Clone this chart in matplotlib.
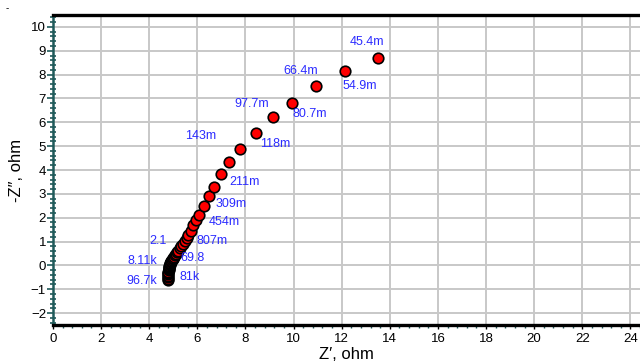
import matplotlib.pyplot as plt
from matplotlib.ticker import MultipleLocator

plt.rcParams['font.family'] = ['Liberation Sans', 'DejaVu Sans']

# Nyquist data, high frequency first
z_re = [4.79, 4.79, 4.79, 4.79, 4.80, 4.80, 4.80, 4.81, 4.81, 4.82,
        4.83, 4.84, 4.85, 4.86, 4.88, 4.90, 4.92, 4.94, 4.97, 5.00,
        5.03, 5.07, 5.11, 5.16, 5.21, 5.27, 5.33, 5.40, 5.47, 5.55,
        5.63, 5.72, 5.83, 5.95, 6.08, 6.29, 6.47, 6.71, 6.99, 7.33,
        7.76, 8.42, 9.125, 9.92, 10.93, 12.13, 13.51]
z_im = [-0.62, -0.55, -0.49, -0.43, -0.37, -0.31, -0.26, -0.21, -0.16, -0.11,
        -0.07, -0.03, 0.01, 0.05, 0.09, 0.13, 0.17, 0.21, 0.26, 0.31,
        0.36, 0.42, 0.48, 0.55, 0.62, 0.71, 0.80, 0.90, 1.01, 1.13,
        1.27, 1.45, 1.69, 1.90, 2.13, 2.51, 2.90, 3.29, 3.84, 4.34,
        4.87, 5.56, 6.22, 6.82, 7.54, 8.16, 8.69]

# frequency labels: point index, text, offset in pixels, alignment
lab_idx = [0, 1, 12, 18, 26, 31, 34, 36, 38, 40, 41, 42, 43, 44, 45, 46]
lab_txt = ['96.7k', '81k', '8.11k', '69.8', '2.1', '807m', '454m', '309m',
           '211m', '143m', '118m', '97.7m', '80.7m', '66.4m', '54.9m', '45.4m']
lab_dx = [-11, 11, -12, 8, -15, 6, 9, 7, 8, -23, 4, -4, 1, 2, -2, -28]
lab_dy = [-1, 2, 4, 1, 5, -10, -7, -8, -8, 13, -11, 13, -11, 15, -15, 16]
lab_ha = ['right', 'left', 'right', 'left', 'right', 'left', 'left', 'left',
          'left', 'right', 'left', 'right', 'left', 'right', 'left', 'left']

xticks = list(range(0, 25, 2))
yticks = list(range(-2, 11))

fig = plt.figure(figsize=(6.4, 3.63), dpi=100)
ax = fig.add_axes([53/640, 1 - 325/363, 587/640, 310/363])

ax.plot(z_re, z_im, 'o', color='#ff0000', markeredgecolor='black',
        markersize=7.6, markeredgewidth=1.2, zorder=3)

for i, t, dx, dy, ha in zip(lab_idx, lab_txt, lab_dx, lab_dy, lab_ha):
    ax.annotate(t, (z_re[i], z_im[i]), xytext=(dx, dy), textcoords='offset pixels',
                ha=ha, va='center', color='#2b2bff', fontsize=9, zorder=4)

ax.set_xlim(0, 24.4)
ax.set_ylim(-2.5, 10.5)
ax.set_xticks(xticks)
ax.set_yticks(yticks)
ax.xaxis.set_minor_locator(MultipleLocator(0.4))
ax.yaxis.set_minor_locator(MultipleLocator(0.2))
ax.grid(True, which='major', color='#c8c8c8', linewidth=1.4, zorder=0)
ax.set_axisbelow(True)

teal = '#1f5a5a'
ax.spines['right'].set_visible(False)
ax.spines['top'].set_linewidth(2.4)
ax.spines['bottom'].set_linewidth(2.4)
ax.spines['left'].set_color(teal)
ax.spines['left'].set_linewidth(1.8)

ax.tick_params(axis='y', which='major', direction='out', length=4, width=1.2,
               color=teal, labelsize=9.5, pad=1)
ax.tick_params(axis='y', which='minor', direction='inout', length=4, width=1.2,
               color=teal)
ax.tick_params(axis='x', which='major', direction='out', length=3, width=1,
               color='black', labelsize=9.5, pad=3)
ax.tick_params(axis='x', which='minor', direction='out', length=2, width=1,
               color=teal)

ax.set_xlabel('Z\u2032, ohm', fontsize=12, labelpad=1)
ax.set_ylabel('-Z\u2033, ohm', fontsize=12, labelpad=5)

fig.text(7/640, 1 - 8/363, '-', fontsize=7, ha='center', va='center')

fig.savefig('out.png', dpi=100)
